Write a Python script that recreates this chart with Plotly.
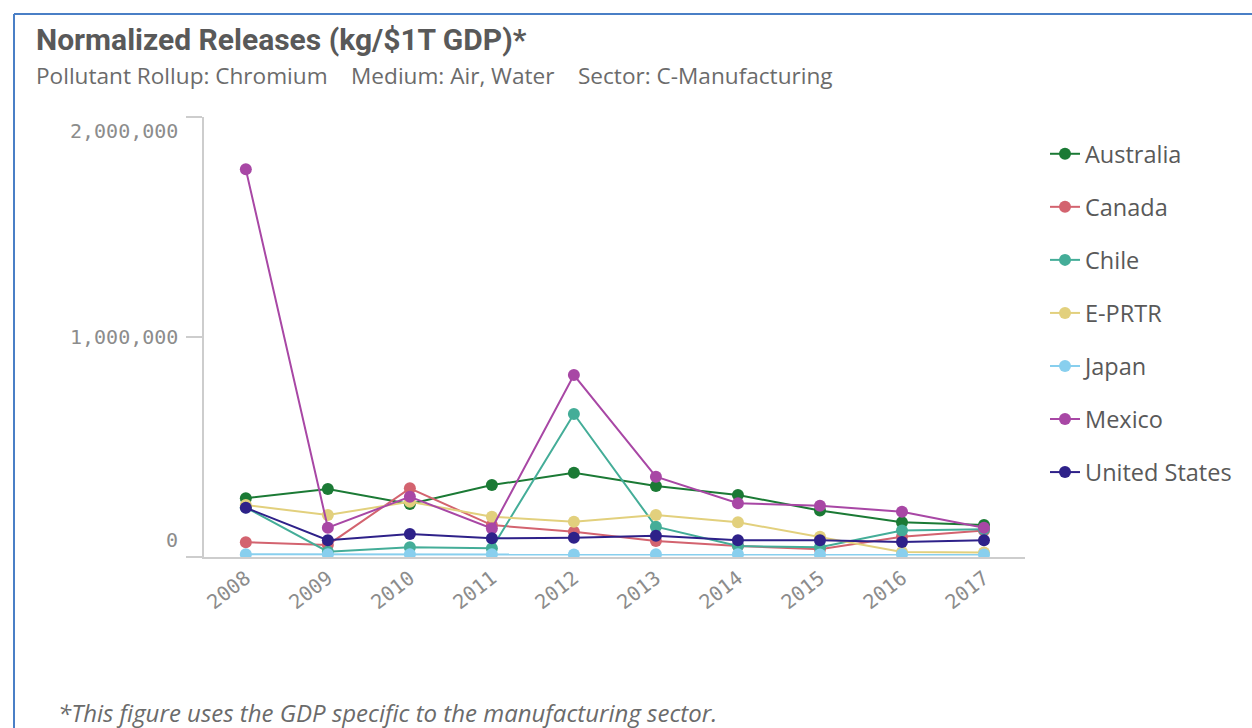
import plotly.graph_objects as go

# Normalized chromium releases (kg per $1T manufacturing GDP), air + water
years = [2008, 2009, 2010, 2011, 2012, 2013, 2014, 2015, 2016, 2017]
year_labels = [str(y) for y in years]

australia = [267000, 309000, 241000, 327000, 383000, 323000, 282000, 211000, 158000, 145000]
canada = [67000, 55000, 312000, 145000, 115000, 73000, 50000, 35000, 92000, 120000]
chile = [225000, 24000, 44000, 40000, 650000, 138000, 50000, 44000, 120000, 126000]
eprtr = [236000, 191000, 251000, 183000, 160000, 191000, 158000, 92000, 23000, 20000]
japan = [12000, 12000, 13000, 12000, 11000, 12000, 12000, 11000, 12000, 11000]
mexico = [1762000, 133000, 274000, 130000, 827000, 365000, 244000, 233000, 206000, 133000]
united_states = [224000, 76000, 105000, 85000, 88000, 97000, 76000, 76000, 68000, 76000]

series_names = ["Australia", "Canada", "Chile", "E-PRTR", "Japan", "Mexico", "United States"]
series_values = [australia, canada, chile, eprtr, japan, mexico, united_states]
series_colors = ["#1b7a35", "#d3636f", "#44ad98", "#e2d07d", "#88cfee", "#a847a5", "#2e2189"]

y_ticks = [0, 1000000, 2000000]
y_tick_labels = ["0", "1,000,000", "2,000,000"]

# plot-area geometry in pixels (used to place text outside the axes)
W, H = 1252, 728
L, R, T, B = 204, 1025, 117, 557
PW, PH = R - L, B - T


def px_x(x):
    return (x - L) / PW


def px_y(y):
    return (B - y) / PH


fig = go.Figure()
for i, (name, vals, col) in enumerate(zip(series_names, series_values, series_colors)):
    fig.add_trace(go.Scatter(
        x=years, y=vals, name=name, mode="lines+markers",
        line=dict(color=col, width=2),
        marker=dict(color=col, size=12),
        legendgroup=name,
    ))

axis_gray = "#cdcdcd"
tick_font = dict(family="DejaVu Sans Mono", size=20, color="#8c8c8c")
text_gray = "#595959"

fig.update_layout(
    width=W, height=H,
    margin=dict(l=L, r=W - R, t=T, b=H - B, autoexpand=False),
    paper_bgcolor="white", plot_bgcolor="white",
    showlegend=True,
    legend=dict(
        x=px_x(1045), y=px_y(132), xanchor="left", yanchor="top",
        font=dict(family="Open Sans", size=23.5, color=text_gray),
        tracegroupgap=19.5, itemwidth=30,
        bgcolor="rgba(0,0,0,0)",
    ),
    xaxis=dict(
        range=[2007.49, 2017.5], tickvals=years, ticktext=year_labels,
        tickangle=-38, tickfont=tick_font, ticks="",
        showgrid=False, zeroline=False,
        showline=True, linecolor=axis_gray, linewidth=1.5,
    ),
    yaxis=dict(
        range=[0, 2000000], tickvals=y_ticks, showticklabels=False,
        ticks="outside", ticklen=16, tickcolor=axis_gray, tickwidth=1.5,
        showgrid=False, zeroline=False,
        showline=True, linecolor=axis_gray, linewidth=1.5,
    ),
)

annotations = []
# y tick labels; the end labels sit inside the axis span
shifts = {0: 17, 1000000: 0, 2000000: -14}
for v, lab in zip(y_ticks, y_tick_labels):
    annotations.append(dict(
        x=0, xref="paper", y=v, yref="y", text=lab, showarrow=False,
        xanchor="right", yanchor="middle", xshift=-24, yshift=shifts[v],
        font=tick_font,
    ))

annotations.append(dict(
    x=px_x(34), y=px_y(40), xref="paper", yref="paper",
    text="<b>Normalized Releases (kg/$1T GDP)*</b>", showarrow=False,
    xanchor="left", yanchor="middle",
    font=dict(family="Roboto", size=30, color=text_gray),
))
annotations.append(dict(
    x=px_x(34), y=px_y(75), xref="paper", yref="paper",
    text="Pollutant Rollup: Chromium\u00a0\u00a0\u00a0 Medium: Air, Water\u00a0\u00a0\u00a0 Sector: C-Manufacturing",
    showarrow=False, xanchor="left", yanchor="middle",
    font=dict(family="Open Sans", size=22.6, color="#6b6b6b"),
))
annotations.append(dict(
    x=px_x(56), y=px_y(712), xref="paper", yref="paper",
    text="<i>*This figure uses the GDP specific to the manufacturing sector.</i>",
    showarrow=False, xanchor="left", yanchor="middle",
    font=dict(family="Open Sans", size=24, color="#6b6b6b"),
))
fig.update_layout(annotations=annotations)

# blue frame around the chart object
frame = "#4a7fc6"
fig.add_shape(type="line", xref="paper", yref="paper",
              x0=px_x(14), x1=px_x(W + 5), y0=px_y(14), y1=px_y(14),
              line=dict(color=frame, width=2))
fig.add_shape(type="line", xref="paper", yref="paper",
              x0=px_x(14), x1=px_x(14), y0=px_y(14), y1=px_y(H + 5),
              line=dict(color=frame, width=2))

fig.write_html("out.html")
